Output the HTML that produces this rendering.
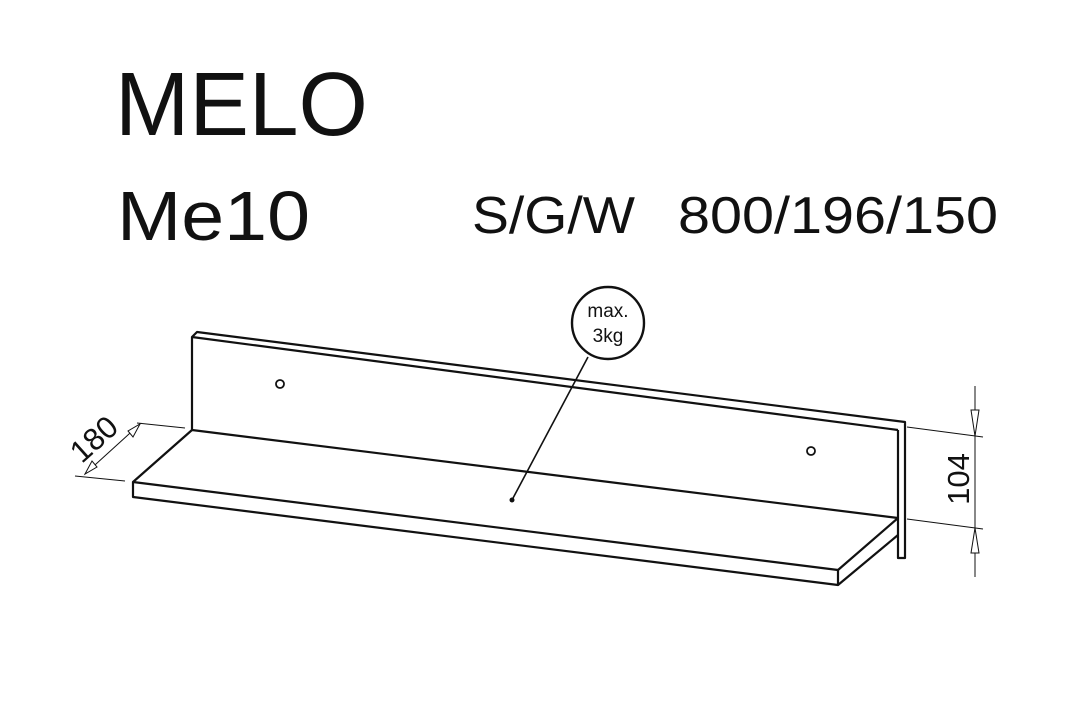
<!DOCTYPE html>
<html><head><meta charset="utf-8"><style>
html,body{margin:0;padding:0;background:#fff;}
svg{display:block;}
text{font-family:"Liberation Sans",sans-serif;fill:#111;}
</style></head><body>
<svg width="1090" height="710" viewBox="0 0 1090 710" xmlns="http://www.w3.org/2000/svg">
<rect width="1090" height="710" fill="#fff"/>
<text x="115" y="135" font-size="90" textLength="253" lengthAdjust="spacingAndGlyphs">MELO</text>
<text x="117" y="240" font-size="70" textLength="193" lengthAdjust="spacingAndGlyphs">Me10</text>
<text x="472" y="233" font-size="52" textLength="163" lengthAdjust="spacingAndGlyphs">S/G/W</text>
<text x="678" y="233" font-size="52" textLength="320" lengthAdjust="spacingAndGlyphs">800/196/150</text>

<g fill="none" stroke="#111" stroke-width="2.2" stroke-linejoin="round">
<polyline points="192,430 192,337 197,332 905,422 905,558 898,558 898,430"/>
<line x1="192" y1="337" x2="898" y2="430"/>
<line x1="192" y1="430" x2="898" y2="518"/>
<polyline points="192,430 133,482 133,497 838,585 838,570"/>
<line x1="133" y1="482" x2="838" y2="570"/>
<line x1="838" y1="570" x2="898" y2="518"/>
<line x1="838" y1="585" x2="898" y2="535"/>
<circle cx="280" cy="384" r="4" stroke-width="1.8"/>
<circle cx="811" cy="451" r="4" stroke-width="1.8"/>
<circle cx="608" cy="323" r="36" stroke-width="2.4"/>
<line x1="588" y1="357" x2="512" y2="500" stroke-width="1.6"/>
</g>
<circle cx="512" cy="500" r="2.5" fill="#111"/>
<text x="608" y="317" font-size="19" text-anchor="middle">max.</text>
<text x="608" y="342" font-size="19" text-anchor="middle">3kg</text>

<g stroke="#111" stroke-width="1" fill="none">
<line x1="75" y1="476" x2="125" y2="481"/>
<line x1="137" y1="423" x2="185" y2="428"/>
<line x1="85" y1="474" x2="140" y2="424"/>
<polygon points="85,474 92,461 97,467" fill="#fff"/>
<polygon points="140,424 133,437 128,431" fill="#fff"/>
<line x1="907" y1="427" x2="983" y2="437"/>
<line x1="907" y1="519" x2="983" y2="529"/>
<line x1="975" y1="386" x2="975" y2="577"/>
<polygon points="975,436 971,410 979,410" fill="#fff"/>
<polygon points="975,528 971,553 979,553" fill="#fff"/>
</g>
<text transform="translate(101,447) rotate(-42)" font-size="31" text-anchor="middle">180</text>
<text transform="translate(969,479) rotate(-90)" font-size="31" text-anchor="middle">104</text>
</svg>
</body></html>
